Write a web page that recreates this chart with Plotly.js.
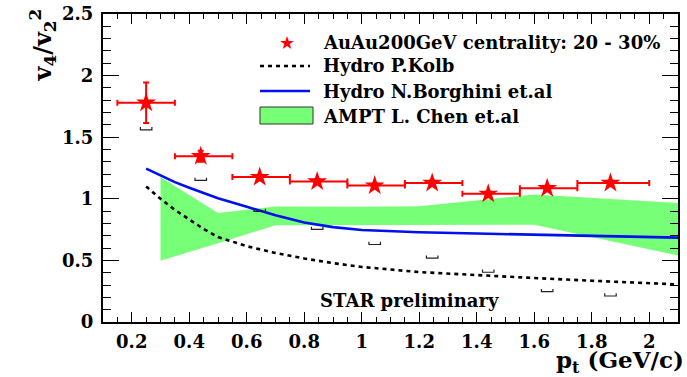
<!DOCTYPE html>
<html>
<head>
<meta charset="utf-8">
<script src="https://cdn.plot.ly/plotly-3.0.1.min.js"></script>
<style>html,body{margin:0;padding:0;background:#fff;}#plot{width:687px;height:377px;}</style>
</head>
<body>
<div id="plot"></div>
<script>
// ---- data ----
const dataPt      = [0.25, 0.44, 0.645, 0.845, 1.045, 1.245, 1.44, 1.645, 1.865];
const dataV       = [1.78, 1.345, 1.176, 1.14, 1.107, 1.128, 1.04, 1.085, 1.128];
const dataErrY    = [0.165, 0.045, 0.02, 0.02, 0.02, 0.02, 0.02, 0.02, 0.02];
const binLow      = [0.15, 0.35, 0.55, 0.75, 0.95, 1.15, 1.35, 1.55, 1.75];
const binHigh     = [0.35, 0.55, 0.75, 0.95, 1.15, 1.35, 1.55, 1.75, 2.0];
const sysLow      = [1.56, 1.149, 0.897, 0.752, 0.629, 0.518, 0.404, 0.246, 0.211];

const kolbPt  = [0.25, 0.3, 0.35, 0.4, 0.45, 0.5, 0.6, 0.7, 0.8, 0.9, 1.0, 1.2, 1.4, 1.6, 1.8, 2.0, 2.1];
const kolbV   = [1.10, 1.00, 0.91, 0.83, 0.755, 0.69, 0.615, 0.56, 0.515, 0.478, 0.447, 0.405, 0.378, 0.357, 0.335, 0.315, 0.305];

const borgPt  = [0.25, 0.3, 0.35, 0.4, 0.5, 0.6, 0.7, 0.8, 0.9, 1.0, 1.2, 1.4, 1.6, 1.8, 2.0, 2.1];
const borgV   = [1.245, 1.19, 1.135, 1.09, 1.005, 0.935, 0.866, 0.808, 0.77, 0.747, 0.728, 0.718, 0.707, 0.697, 0.688, 0.685];

const amptPt     = [0.3, 0.5, 0.7, 1.0, 1.2, 1.6, 2.1];
const amptTop    = [1.176, 0.884, 0.937, 0.935, 0.94, 1.035, 0.965];
const amptBottom = [0.498, 0.64, 0.785, 0.79, 0.79, 0.79, 0.54];

const xTickVals = [0.2, 0.4, 0.6, 0.8, 1.0, 1.2, 1.4, 1.6, 1.8, 2.0];
const xTickText = ["0.2", "0.4", "0.6", "0.8", "1", "1.2", "1.4", "1.6", "1.8", "2"];
const yTickVals = [0, 0.5, 1.0, 1.5, 2.0, 2.5];
const yTickText = ["0", "0.5", "1", "1.5", "2", "2.5"];

const legendLabels = ["AuAu200GeV centrality: 20 - 30%", "Hydro P.Kolb", "Hydro N.Borghini et.al", "AMPT L. Chen et.al"];
const xTitle = "p<sub>t</sub> (GeV/c)";
const yTitle = "v<sub>4</sub>/v<sub>2</sub><sup>2</sup>";
const starLabel = "STAR preliminary";

// ---- styles ----
const W = 687, H = 377;
const M = {l: 103, r: 9, t: 14, b: 55};
const PW = W - M.l - M.r, PH = H - M.t - M.b;
const px = x => (x - M.l) / PW;      // pixel -> paper
const py = y => (H - M.b - y) / PH;
const SERIF = "DejaVu Serif, Liberation Serif, serif";
const RED = "#ff0000", BLUE = "#0010ee", GREEN = "#77ff77";

// AMPT band polygon
const bandX = amptPt.concat(amptPt.slice().reverse());
const bandY = amptTop.concat(amptBottom.slice().reverse());

// systematic brackets (lower)
const bw = 0.02, bh = 0.022;
const sysX = [], sysY = [];
dataPt.forEach((x, i) => {
  sysX.push(x - bw, x - bw, x + bw, x + bw, null);
  sysY.push(sysLow[i] + bh, sysLow[i], sysLow[i], sysLow[i] + bh, null);
});

const traces = [
  {x: bandX, y: bandY, type: "scatter", mode: "lines", fill: "toself",
   fillcolor: GREEN, line: {width: 0, color: GREEN}, hoverinfo: "skip"},
  {x: kolbPt, y: kolbV, type: "scatter", mode: "lines", line: {color: "#000", width: 2.6, dash: "4px,4px"}},
  {x: borgPt, y: borgV, type: "scatter", mode: "lines", line: {color: BLUE, width: 2.6}},
  {x: sysX, y: sysY, type: "scatter", mode: "lines", line: {color: "#222", width: 1.2}, connectgaps: false},
  {x: dataPt, y: dataV, type: "scatter", mode: "markers",
   marker: {symbol: "star", size: 15, color: RED, line: {width: 0}},
   error_x: {type: "data", symmetric: false,
             array: dataPt.map((x, i) => binHigh[i] - x),
             arrayminus: dataPt.map((x, i) => x - binLow[i]),
             color: RED, thickness: 2, width: 3},
   error_y: {type: "data", array: dataErrY, color: RED, thickness: 2, width: 3}}
];

const shapes = [
  {type: "line", xref: "paper", yref: "paper", x0: px(260), x1: px(310), y0: py(66), y1: py(66),
   line: {color: "#000", width: 2.6, dash: "4px,4px"}},
  {type: "line", xref: "paper", yref: "paper", x0: px(260), x1: px(310), y0: py(91), y1: py(91),
   line: {color: BLUE, width: 2.6}},
  {type: "rect", xref: "paper", yref: "paper", x0: px(260), x1: px(313), y0: py(124), y1: py(107),
   fillcolor: GREEN, line: {color: "#333", width: 1}}
];

const legY = [42, 66, 91, 116];
const annotations = legendLabels.map((t, i) => ({
  text: t, xref: "paper", yref: "paper", x: px(321), y: py(legY[i]),
  xanchor: "left", yanchor: "middle", showarrow: false,
  font: {family: SERIF, size: 18, color: "#000", weight: "bold"}
}));
annotations.push(
  {text: "★", xref: "paper", yref: "paper", x: px(287), y: py(42), xanchor: "center", yanchor: "middle",
   showarrow: false, font: {family: "DejaVu Sans", size: 18, color: RED}},
  {text: starLabel, xref: "paper", yref: "paper", x: px(409), y: py(300), xanchor: "center", yanchor: "middle",
   showarrow: false, font: {family: SERIF, size: 18, color: "#000", weight: "bold"}},
  {text: xTitle, xref: "paper", yref: "paper", x: px(686), y: py(361), xanchor: "right", yanchor: "middle",
   showarrow: false, font: {family: SERIF, size: 23, color: "#000", weight: "bold"}},
  {text: yTitle, xref: "paper", yref: "paper", x: px(42), y: py(7), xanchor: "center", yanchor: "top",
   textangle: -90, showarrow: false, font: {family: SERIF, size: 24, color: "#000", weight: "bold"}}
);

const layout = {
  width: W, height: H, margin: M, showlegend: false,
  paper_bgcolor: "#fff", plot_bgcolor: "#fff",
  xaxis: {range: [0.1, 2.1], tickmode: "array", tickvals: xTickVals, ticktext: xTickText,
          ticks: "inside", ticklen: 10, tickwidth: 1.2, tickcolor: "#000",
          minor: {dtick: 0.05, tick0: 0, ticks: "inside", ticklen: 5, tickwidth: 1, tickcolor: "#000"},
          showline: true, linewidth: 2, linecolor: "#000", mirror: "ticks",
          showgrid: false, zeroline: false, ticklabelstandoff: 2,
          tickfont: {family: SERIF, size: 18, color: "#000", weight: "bold"}},
  yaxis: {range: [0, 2.5], tickmode: "array", tickvals: yTickVals, ticktext: yTickText,
          ticks: "inside", ticklen: 16, tickwidth: 1.2, tickcolor: "#000",
          minor: {dtick: 0.1, tick0: 0, ticks: "inside", ticklen: 8, tickwidth: 1, tickcolor: "#000"},
          showline: true, linewidth: 2, linecolor: "#000", mirror: "ticks",
          showgrid: false, zeroline: false, ticklabelstandoff: 4,
          tickfont: {family: SERIF, size: 18, color: "#000", weight: "bold"}},
  shapes: shapes, annotations: annotations
};

Plotly.newPlot("plot", traces, layout, {staticPlot: true, displayModeBar: false});
</script>
</body>
</html>
